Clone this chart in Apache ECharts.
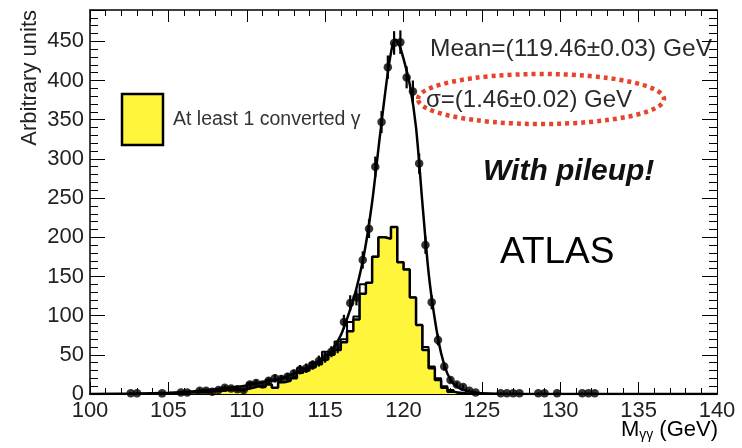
<!DOCTYPE html>
<html>
<head>
<meta charset="utf-8">
<script src="https://cdn.jsdelivr.net/npm/echarts@6/dist/echarts.min.js"></script>
<style>
html,body{margin:0;padding:0;background:#fff;}
#chart{width:742px;height:448px;}
</style>
</head>
<body>
<div id="chart"></div>
<script>
// ---- data ----
const xTicks = [100, 105, 110, 115, 120, 125, 130, 135, 140];
const yTicks = [0, 50, 100, 150, 200, 250, 300, 350, 400, 450];
const binWidth = 0.4;
// all events (points), bin centres start at 100.2 GeV
const ptsStart = 100.2;
const pts = [null,null,null,null,null,null,1,1,null,null,
  null,0.8,null,null,2,2,null,4,4,3,
  5,8,7,6,5,12,14,12,17,20,
  19,22,26,31,33,37,42,47,54,60,
  92,116,123,171,211,290,347,417,448,449,
  404,386,294,190,117,69,35,18,12,9,
  4,2,null,null,null,1,1,1,1,null,
  null,1,1,null,1,null,null,null,1,1,
  1];
const errs = [null,null,null,null,null,null,1.5,1.5,null,null,
  null,1.5,null,null,2,2,null,2.5,2.5,2.5,
  2.5,3,3,3,3,4,4,4,4,5,
  5,5,5,6,6,6,7,7,7,8,
  9,10,10,11,12,13,14,15,15,15,
  14,14,13,11,9,7,5,4,3,3,
  2,1.5,null,null,null,1,1,1,1,null,
  null,1,1,null,1,null,null,null,1,1,
  1];
// converted histogram (yellow), bin left edges start at 104.8 GeV
const convStart = 104.8;
const conv = [1,1,2,2,2,3,3,4,4,5,
  6,5,6,8,10,9,12,8,15,17,
  20,27,30,34,38,44,50,56,66,80,
  95,128,142,175,200,198,213,168,159,123,
  88,56,33,18,8,3,1,0];
// outer outline histogram (black), same binning
const outline = [1,2,2,3,2,4,4,5,3,8,
  8,6,5,14,14,15,18,18,20,20,
  22,33,33,40,42,54,54,67,70,92,
  99,140,142,175,200,198,213,168,159,123,
  88,60,35,20,10,5,2,1];
// fit curve
const fitX = [100,103,105,106,107,108,109,110,111,112,113,114,114.5,115,115.5,116,116.5,117,117.5,118,118.5,119,119.3,119.5,119.7,120,120.4,120.8,121.2,121.6,122,122.4,122.8,123.2,123.6,124,124.5,125,126,128,140];
const fitY = [0,0.5,1.5,2.5,4,6,8,11,15,19,26,35,41,48,58,75,102,135,180,245,330,410,445,452,447,428,395,340,245,155,95,52,26,13,7,4,2,1,0.3,0,0];

// ---- build series data ----
function histData(start, vals){
  const d = [[start, 0]];
  vals.forEach((v,i)=>d.push([start + i*binWidth, v]));
  d.push([start + vals.length*binWidth, 0]);
  return d;
}
const ptData = [], errData = [];
pts.forEach((v,i)=>{ if(v!==null){ const x = ptsStart + i*binWidth; ptData.push([x,v]); errData.push([x,v,errs[i]]); }});
const fitData = fitX.map((x,i)=>[x, fitY[i]]);

const FONT = '"Liberation Sans", Arial, Helvetica, sans-serif';
const chart = echarts.init(document.getElementById('chart'), null, {renderer:'canvas'});
const axisCommon = {
  type:'value', splitLine:{show:false},
  axisTick:{show:true, inside:true, lineStyle:{color:'#000', width:1}},
  minorTick:{show:true, splitNumber:5, lineStyle:{color:'#000', width:1}},
};
chart.setOption({
  animation:false,
  backgroundColor:'#fff',
  grid:{left:90, right:25, top:10, bottom:54, containLabel:false},
  xAxis:[
    Object.assign({}, axisCommon, {min:100, max:140, interval:5, position:'bottom',
      axisLine:{show:true, onZero:false, lineStyle:{color:'#000', width:2}},
      axisTick:{show:true, inside:true, length:12, lineStyle:{color:'#000', width:1}},
      minorTick:{show:true, splitNumber:5, length:6, lineStyle:{color:'#000', width:1}},
      axisLabel:{show:true, fontSize:22, color:'#222', fontFamily:FONT, margin:6, showMinLabel:true, showMaxLabel:true,
        formatter:v=> xTicks.includes(v)? String(v):''}}),
    Object.assign({}, axisCommon, {min:100, max:140, interval:5, position:'top',
      axisLine:{show:true, onZero:false, lineStyle:{color:'#000', width:1.5}},
      axisTick:{show:true, inside:true, length:12, lineStyle:{color:'#000', width:1}},
      minorTick:{show:true, splitNumber:5, length:6, lineStyle:{color:'#000', width:1}},
      axisLabel:{show:false}})
  ],
  yAxis:[
    Object.assign({}, axisCommon, {min:0, max:490, interval:50, position:'left',
      axisLine:{show:true, onZero:false, lineStyle:{color:'#000', width:1.5}},
      axisTick:{show:true, inside:true, length:15, lineStyle:{color:'#000', width:1}},
      minorTick:{show:true, splitNumber:5, length:8, lineStyle:{color:'#000', width:1}},
      axisLabel:{show:true, fontSize:22, color:'#222', fontFamily:FONT, margin:6,
        formatter:v=> yTicks.includes(v)? String(v):''}}),
    Object.assign({}, axisCommon, {min:0, max:490, interval:50, position:'right',
      axisLine:{show:true, onZero:false, lineStyle:{color:'#000', width:1}},
      axisTick:{show:true, inside:true, length:15, lineStyle:{color:'#000', width:1}},
      minorTick:{show:true, splitNumber:5, length:8, lineStyle:{color:'#000', width:1}},
      axisLabel:{show:false}})
  ],
  series:[
    {type:'line', name:'outline', data:histData(convStart, outline), step:'end', symbol:'none',
      lineStyle:{color:'#000', width:2}, z:2},
    {type:'line', name:'At least 1 converted γ', data:histData(convStart, conv), step:'end', symbol:'none',
      lineStyle:{color:'#000', width:2.5}, areaStyle:{color:'#fff53a', opacity:1}, z:3},
    {type:'line', name:'fit', data:fitData, smooth:0.3, symbol:'none',
      lineStyle:{color:'#000', width:2.5}, z:4},
    {type:'custom', name:'errors', data:errData, z:5,
      renderItem:function(params, api){
        const x = api.value(0), y = api.value(1), e = api.value(2);
        const p1 = api.coord([x, Math.max(0, y-e)]), p2 = api.coord([x, y+e]);
        return {type:'line', shape:{x1:p1[0], y1:p1[1], x2:p2[0], y2:p2[1]}, style:{stroke:'#000', lineWidth:2.2}};
      }},
    {type:'scatter', name:'data', data:ptData, symbol:'circle', symbolSize:8.5,
      itemStyle:{color:'#000'}, z:6}
  ],
  graphic:[
    {type:'text', x:30, y:10, rotation:Math.PI/2,
      style:{text:'Arbitrary units', font:'22px '+FONT, fill:'#222', textAlign:'right', textVerticalAlign:'middle'}},
    {type:'text', x:718, y:430,
      style:{text:'{a|M}{b|γγ}{a| (GeV)}', textAlign:'right', textVerticalAlign:'middle',
        rich:{a:{fontSize:22, fontFamily:FONT, color:'#222'}, b:{fontSize:14, fontFamily:FONT, color:'#222', padding:[10,0,0,0]}}}},
    {type:'text', x:430, y:49,
      style:{text:'Mean=(119.46±0.03) GeV', font:'24.5px '+FONT, fill:'#2a2a2a', textAlign:'left', textVerticalAlign:'middle'}},
    {type:'text', x:426, y:100,
      style:{text:'σ=(1.46±0.02) GeV', font:'24px '+FONT, fill:'#2a2a2a', textAlign:'left', textVerticalAlign:'middle'}},
    {type:'ellipse', shape:{cx:541, cy:99, rx:123, ry:25},
      style:{fill:'none', stroke:'#e6452c', lineWidth:4.5, lineDash:[4,4]}},
    {type:'text', x:483, y:172,
      style:{text:'With pileup!', font:'italic bold 30px '+FONT, fill:'#111', textAlign:'left', textVerticalAlign:'middle'}},
    {type:'text', x:500, y:253,
      style:{text:'ATLAS', font:'37px '+FONT, fill:'#000', textAlign:'left', textVerticalAlign:'middle'}},
    {type:'rect', shape:{x:122, y:94, width:41, height:51},
      style:{fill:'#fff53a', stroke:'#000', lineWidth:2.5}},
    {type:'text', x:173, y:120,
      style:{text:'At least 1 converted γ', font:'19.5px '+FONT, fill:'#333', textAlign:'left', textVerticalAlign:'middle'}}
  ]
});
</script>
</body>
</html>
